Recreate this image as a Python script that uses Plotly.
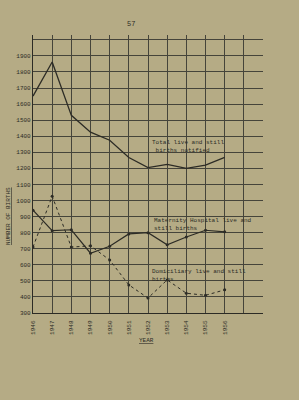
import plotly.graph_objects as go

years = [1946, 1947, 1948, 1949, 1950, 1951, 1952, 1953, 1954, 1955, 1956]
total = [1650, 1862, 1530, 1425, 1375, 1268, 1205, 1225, 1200, 1220, 1268]
maternity = [940, 812, 818, 672, 715, 792, 800, 725, 773, 815, 805]
domiciliary = [710, 1027, 710, 718, 630, 475, 393, 506, 423, 410, 444]
y_ticks = list(range(300, 2001, 100))
y_ticktext = [str(v) if v < 2000 else "" for v in y_ticks]
x_ticks = list(range(1946, 1958))
x_ticktext = [str(v) if v <= 1956 else "" for v in x_ticks]

ink = "#2c2b25"
grid = "#45443a"
paper = "#b5ab85"
mono = "Liberation Mono, DejaVu Sans Mono, monospace"

fig = go.Figure()
fig.add_trace(go.Scatter(x=years, y=total, mode="lines",
                         line=dict(color=ink, width=1.3)))
fig.add_trace(go.Scatter(x=years, y=maternity, mode="lines+markers",
                         line=dict(color=ink, width=1.2),
                         marker=dict(size=3, color=ink)))
fig.add_trace(go.Scatter(x=years, y=domiciliary, mode="lines+markers",
                         line=dict(color=ink, width=1, dash="3px,3px"),
                         marker=dict(size=3, color=ink)))

ann_font = dict(family=mono, size=6, color=ink)
fig.add_annotation(x=1952.1, y=1335, text="Total live and still<br> births notified",
                   showarrow=False, xanchor="left", yanchor="middle", align="left", font=ann_font)
fig.add_annotation(x=1952.2, y=850, text="Maternity Hospital live and<br>still births",
                   showarrow=False, xanchor="left", yanchor="middle", align="left", font=ann_font)
fig.add_annotation(x=1952.1, y=531, text="Domiciliary live and still<br>births",
                   showarrow=False, xanchor="left", yanchor="middle", align="left", font=ann_font)

# page number
fig.add_annotation(x=(131 - 33) / 230, y=(313 - 24) / 278, xref="paper", yref="paper",
                   text="57", showarrow=False, xanchor="center", yanchor="middle",
                   font=dict(family=mono, size=7, color=ink))
fig.add_annotation(x=(8 - 33) / 230, y=(313 - 216) / 278, xref="paper", yref="paper",
                   text="<u>NUMBER OF BIRTHS</u>", xanchor="center", yanchor="middle",
                   textangle=-90, showarrow=False, font=dict(family=mono, size=6, color=ink))
fig.add_annotation(x=(146 - 33) / 230, y=(313 - 340) / 278, xref="paper", yref="paper",
                   text="<u>YEAR</u>", xanchor="center", yanchor="middle",
                   showarrow=False, font=dict(family=mono, size=6, color=ink))

fig.update_layout(
    width=299, height=400,
    margin=dict(l=33, r=36, t=35, b=87),
    paper_bgcolor=paper, plot_bgcolor=paper,
    showlegend=False,
    font=dict(family=mono, size=6, color=ink),
)
fig.update_xaxes(range=[1946, 1958], tickvals=x_ticks, ticktext=x_ticktext, tickangle=-90,
                 showgrid=True, gridcolor=grid, gridwidth=1, zeroline=False,
                 showline=True, linecolor=ink, linewidth=1.2, ticks="",
                 ticklabelstandoff=4,
                 tickfont=dict(family=mono, size=6, color=ink))
fig.update_yaxes(range=[300, 2030], tickvals=y_ticks, ticktext=y_ticktext,
                 showgrid=True, gridcolor=grid, gridwidth=1, zeroline=False,
                 showline=True, linecolor=ink, linewidth=1.2, ticks="",
                 tickfont=dict(family=mono, size=6, color=ink))

fig.write_html("out.html")
